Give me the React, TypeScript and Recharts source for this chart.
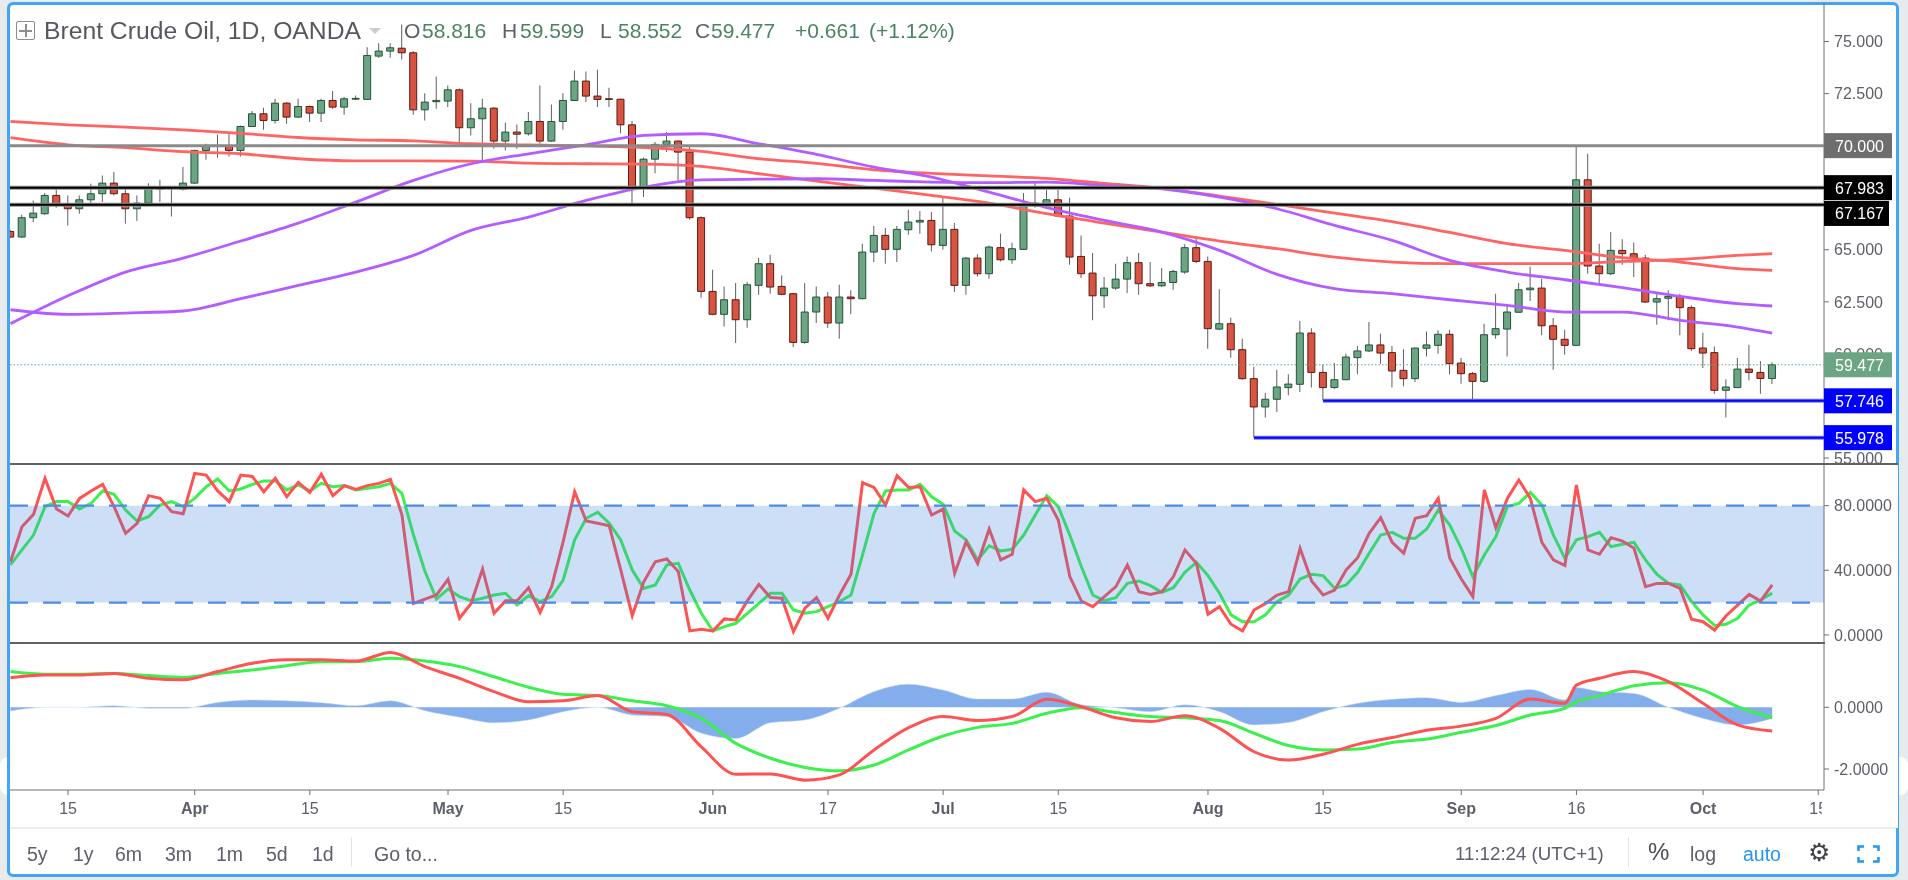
import React from "react";
import { Area, Bar, Cell, ComposedChart, Line, ReferenceArea, ReferenceLine, XAxis, YAxis } from "recharts";

// Daily candles, 8 Mar to 9 Oct, one entry per trading day
const opens = [
  65.88, 65.61, 66.54, 66.73, 67.61, 67.13, 66.97, 67.4, 67.69, 68.2,
  67.69, 66.97, 67.24, 67.96, 67.93, 67.91, 68.2, 69.77, 70.01, 69.98,
  69.77, 70.92, 71.53, 71.21, 72.04, 71.37, 71.88, 71.56, 72.17, 71.85,
  72.23, 72.22, 74.3, 74.54, 74.68, 74.46, 71.72, 72.11, 72.14, 72.68,
  70.86, 71.29, 71.8, 70.22, 70.65, 70.57, 71.16, 70.22, 71.16, 72.17,
  73.1, 72.38, 72.25, 72.23, 71.0, 68.01, 69.35, 70.06, 70.22, 69.69,
  66.54, 63.0, 61.9, 62.6, 61.64, 63.29, 64.33, 63.24, 62.89, 60.55,
  62.01, 62.73, 61.48, 62.73, 62.65, 64.89, 65.69, 65.02, 65.96, 66.33,
  66.41, 65.21, 65.98, 63.29, 64.6, 63.85, 65.1, 64.52, 65.02, 67.11,
  67.21, 67.4, 66.62, 64.68, 63.88, 62.79, 63.16, 63.59, 64.38, 63.37,
  63.27, 63.43, 63.93, 65.1, 64.44, 61.19, 61.45, 60.2, 58.81, 57.45,
  57.82, 58.38, 58.54, 61.0, 59.11, 58.38, 58.76, 59.82, 60.14, 60.43,
  60.06, 59.21, 58.81, 60.27, 60.41, 60.94, 59.56, 59.05, 58.68, 60.92,
  61.19, 62.0, 63.08, 63.16, 61.35, 60.7, 60.41, 68.36, 64.22, 63.85,
  64.97, 64.81, 64.6, 62.49, 62.67, 62.76, 62.22, 60.28, 60.06, 58.25,
  58.38, 59.27, 59.11, 58.816,
];
const closes = [
  65.61, 66.54, 66.76, 67.61, 67.13, 66.97, 67.4, 67.69, 68.2, 67.69,
  66.97, 67.24, 68.01, 67.91, 67.96, 68.2, 69.77, 70.01, 69.98, 69.77,
  70.92, 71.53, 71.21, 72.04, 71.37, 71.88, 71.56, 72.17, 71.85, 72.25,
  72.27, 74.33, 74.54, 74.7, 74.46, 71.72, 72.09, 72.17, 72.68, 70.86,
  71.29, 71.8, 70.22, 70.65, 70.55, 71.16, 70.22, 71.16, 72.17, 73.1,
  72.38, 72.22, 72.22, 71.0, 68.01, 69.35, 70.06, 70.22, 69.69, 66.54,
  63.0, 61.9, 62.6, 61.64, 63.32, 64.33, 63.21, 62.86, 60.55, 62.01,
  62.73, 61.48, 62.73, 62.65, 64.89, 65.69, 65.02, 65.98, 66.33, 66.41,
  65.24, 65.98, 63.29, 64.6, 63.85, 65.13, 64.52, 65.05, 67.13, 67.24,
  67.4, 66.62, 64.65, 63.85, 62.79, 63.16, 63.59, 64.38, 63.37, 63.27,
  63.43, 63.96, 65.1, 64.44, 61.21, 61.45, 60.2, 58.81, 57.45, 57.82,
  58.41, 58.55, 61.0, 59.11, 58.38, 58.76, 59.85, 60.14, 60.43, 60.04,
  59.18, 58.81, 60.28, 60.43, 60.94, 59.53, 59.05, 58.68, 60.92, 61.21,
  62.01, 63.08, 63.16, 61.35, 60.7, 60.41, 68.36, 64.22, 63.85, 64.97,
  64.81, 64.6, 62.49, 62.65, 62.76, 62.22, 60.25, 60.04, 58.25, 58.41,
  59.27, 59.11, 58.82, 59.477,
];
const highs = [
  65.96, 66.68, 67.37, 67.72, 68.01, 67.61, 67.61, 68.17, 68.57, 68.73,
  68.01, 67.61, 68.2, 68.36, 68.01, 68.97, 69.8, 70.09, 70.54, 70.6,
  70.97, 71.66, 71.82, 72.25, 72.09, 72.25, 71.93, 72.25, 72.62, 72.33,
  72.41, 74.73, 74.92, 74.92, 75.82, 74.54, 72.52, 73.32, 72.89, 72.75,
  72.04, 72.25, 71.85, 71.1, 71.02, 71.61, 72.89, 71.98, 72.52, 73.61,
  73.56, 73.64, 72.78, 72.25, 71.18, 69.42, 70.17, 70.65, 70.25, 69.96,
  66.6, 64.04, 63.24, 63.4, 63.45, 64.62, 64.76, 63.77, 62.92, 63.4,
  63.24, 62.97, 63.32, 63.05, 65.29, 66.14, 66.04, 66.14, 66.92, 66.86,
  66.81, 67.56, 66.28, 64.65, 64.78, 65.21, 65.77, 65.34, 67.72, 68.25,
  67.88, 67.88, 67.5, 65.69, 64.84, 63.69, 64.33, 64.68, 64.84, 64.41,
  64.12, 64.04, 65.26, 65.64, 64.68, 63.1, 61.74, 60.73, 59.37, 58.12,
  59.24, 59.02, 61.58, 61.23, 59.48, 59.56, 60.01, 60.38, 61.53, 60.97,
  60.38, 60.22, 60.3, 61.08, 61.13, 61.16, 59.8, 59.13, 61.45, 62.89,
  62.33, 63.4, 64.2, 63.61, 61.72, 61.16, 69.96, 69.61, 65.29, 65.85,
  65.5, 65.35, 64.76, 62.97, 63.05, 62.89, 62.33, 61.02, 60.36, 58.78,
  59.8, 60.44, 59.66, 59.599,
];
const lows = [
  65.58, 65.58, 66.33, 66.68, 67.02, 66.17, 66.73, 67.21, 67.29, 67.61,
  66.25, 66.38, 67.18, 67.29, 66.6, 67.85, 68.17, 69.32, 69.42, 69.48,
  69.48, 70.89, 70.76, 71.05, 71.05, 71.34, 71.13, 71.13, 71.77, 71.48,
  72.2, 72.2, 74.22, 74.22, 74.14, 71.48, 71.21, 71.77, 71.85, 70.17,
  70.49, 69.26, 69.85, 69.77, 69.85, 70.49, 70.09, 70.17, 70.76, 72.14,
  72.09, 71.85, 71.85, 70.6, 67.18, 67.53, 68.68, 69.69, 68.25, 66.44,
  62.7, 61.85, 61.32, 60.52, 61.26, 62.84, 62.89, 62.81, 60.33, 60.49,
  61.48, 61.26, 60.73, 61.9, 62.62, 64.41, 64.33, 64.41, 65.72, 65.77,
  64.92, 65.0, 62.97, 62.84, 63.72, 63.61, 64.44, 64.33, 65.0, 67.02,
  67.13, 66.57, 64.28, 63.64, 61.61, 62.2, 63.08, 62.92, 62.84, 63.21,
  63.21, 63.08, 63.85, 64.36, 60.25, 61.13, 59.82, 58.76, 55.98, 56.94,
  57.21, 58.01, 58.17, 58.38, 57.77, 58.33, 58.73, 59.02, 60.09, 59.53,
  58.38, 58.44, 58.65, 59.88, 60.01, 59.02, 58.57, 57.69, 58.6, 60.73,
  59.88, 61.96, 62.54, 60.89, 59.24, 59.96, 60.39, 63.85, 63.37, 63.79,
  64.28, 63.69, 62.44, 61.4, 61.61, 60.89, 60.14, 59.32, 58.09, 56.94,
  58.36, 58.73, 58.09, 58.552,
];

// Moving averages
const maBars = [
  0, 5, 10, 15, 20, 25, 30, 35, 40, 45, 50, 55, 60, 65, 70, 75, 80, 85, 90, 95,
  100, 105, 110, 115, 120, 125, 130, 135, 140, 145, 150, 153,
];
const redMaUpper = [
  71.16, 71.0, 70.89, 70.76, 70.59, 70.39, 70.28, 70.23, 70.09, 70.03, 69.99, 69.91,
  69.72, 69.37, 69.15, 68.84, 68.67, 68.55, 68.43, 68.19, 67.95, 67.58, 67.18, 66.76,
  66.35, 65.83, 65.29, 64.97, 64.62, 64.41, 64.09, 64.01,
];
const redMaLower = [
  70.38, 70.04, 69.9, 69.71, 69.61, 69.37, 69.27, 69.27, 69.26, 69.16, 69.13, 69.11,
  69.0, 68.65, 68.3, 67.96, 67.61, 67.24, 66.73, 66.28, 65.85, 65.42, 65.05, 64.65,
  64.41, 64.33, 64.33, 64.33, 64.44, 64.54, 64.73, 64.81,
];
const purpleMaFast = [
  61.45, 62.79, 63.93, 64.6, 65.42, 66.28, 67.29, 68.33, 69.13, 69.61, 70.04, 70.49,
  70.57, 70.09, 69.58, 68.97, 68.49, 67.77, 67.02, 66.41, 65.85, 64.97, 63.82, 63.13,
  62.89, 62.6, 62.33, 62.01, 62.01, 61.61, 61.29, 61.0,
];
const purpleMaSlow = [
  62.12, 61.9, 61.96, 62.06, 62.65, 63.29, 63.93, 64.73, 65.93, 66.57, 67.37, 68.01,
  68.36, 68.39, 68.41, 68.33, 68.25, 68.22, 68.25, 68.09, 67.93, 67.53, 66.97, 66.17,
  65.45, 64.49, 63.93, 63.56, 63.18, 62.76, 62.41, 62.3,
];

// Stochastic RSI, one value per bar
const stochK = [
  45.3, 67.0, 74.6, 96.9, 77.9, 73.6, 84.5, 89.1, 93.2, 79.4,
  62.9, 69.1, 86.2, 84.5, 76.3, 75.0, 100, 98.9, 89.1, 82.5,
  98.9, 98.1, 88.6, 96.9, 85.5, 94.4, 88.2, 99.4, 86.2, 92.4,
  90.1, 92.4, 93.8, 96.3, 74.2, 19.5, 22.2, 24.7, 34.4, 10.3,
  19.5, 40.8, 13.4, 21.2, 21.2, 29.2, 14.0, 29.9, 57.7, 88.6,
  70.5, 69.1, 67.6, 40.2, 11.9, 32.9, 45.3, 47.0, 39.2, 2.5,
  3.5, 2.5, 9.9, 9.3, 21.2, 31.3, 23.1, 22.7, 2.0, 16.5,
  23.1, 10.3, 24.7, 37.5, 94.2, 91.3, 80.4, 98.5, 91.3, 91.7,
  74.2, 77.9, 38.1, 57.7, 44.3, 65.6, 46.4, 49.9, 89.7, 82.5,
  84.5, 71.1, 36.1, 21.0, 17.5, 23.7, 29.9, 43.3, 26.8, 25.1,
  26.8, 36.1, 52.6, 44.3, 12.8, 17.5, 6.6, 2.4, 15.4, 19.5,
  24.7, 26.8, 53.6, 33.4, 24.7, 27.8, 40.2, 47.8, 62.9, 72.6,
  57.3, 50.5, 72.2, 73.8, 84.5, 47.4, 34.6, 23.7, 89.7, 66.4,
  84.5, 95.9, 84.5, 57.3, 46.4, 42.9, 92.8, 52.6, 49.9, 60.2,
  58.1, 53.6, 29.9, 31.9, 31.9, 28.8, 9.7, 8.2, 3.0, 11.9,
  18.5, 25.1, 21.0, 30.9,
];
const stochD = [
  43.3, 52.6, 61.8, 79.4, 82.5, 82.5, 77.9, 81.4, 89.1, 87.0,
  77.3, 70.5, 73.2, 80.4, 82.5, 79.4, 84.5, 91.7, 96.5, 89.1,
  90.3, 93.2, 95.3, 95.3, 89.7, 92.8, 89.1, 93.8, 91.7, 92.4,
  89.7, 90.7, 91.7, 93.8, 87.6, 61.8, 39.2, 22.2, 28.4, 23.7,
  21.2, 22.7, 24.7, 25.8, 18.5, 24.3, 20.6, 23.7, 34.0, 58.8,
  72.2, 75.9, 69.1, 58.8, 40.2, 28.8, 30.9, 43.3, 44.3, 27.8,
  13.4, 2.5, 5.1, 7.2, 13.4, 19.5, 25.8, 25.8, 15.4, 13.4,
  14.4, 17.5, 20.6, 24.7, 49.5, 75.2, 89.1, 89.7, 89.7, 93.2,
  85.5, 80.8, 64.3, 58.8, 46.4, 55.2, 52.0, 53.0, 61.8, 74.2,
  86.2, 79.4, 61.8, 42.3, 24.7, 21.2, 23.1, 31.9, 33.4, 30.5,
  26.4, 29.2, 38.8, 44.9, 36.7, 25.8, 12.4, 8.2, 8.2, 12.4,
  20.6, 24.7, 34.6, 37.5, 36.7, 28.8, 30.9, 38.8, 50.5, 61.8,
  63.5, 59.8, 59.8, 65.6, 77.3, 68.0, 53.6, 36.1, 49.5, 60.8,
  79.4, 81.4, 88.2, 80.4, 61.8, 47.4, 58.8, 60.8, 63.5, 54.6,
  56.1, 57.3, 46.4, 37.5, 31.9, 30.9, 20.6, 12.4, 5.8, 6.6,
  10.3, 18.5, 21.6, 25.8,
];

const macdBars = [
  0, 3, 6, 9, 12, 15, 18, 21, 24, 27, 30, 33, 36, 39, 42, 45, 48, 51, 54,
  57, 60, 63, 66, 69, 72, 75, 78, 81, 84, 87, 90, 93, 96, 99, 102, 105, 108,
  111, 114, 117, 120, 123, 126, 129, 132, 135, 136, 138, 141, 144, 147, 150, 153,
];
const macdLine = [
  0.96, 1.05, 1.05, 1.1, 0.94, 0.89, 1.16, 1.43, 1.54, 1.54, 1.5, 1.78, 1.32, 0.94, 0.51, 0.18, 0.21, 0.38, -0.14,
  -0.23, -1.28, -2.17, -2.16, -2.36, -2.19, -1.38, -0.66, -0.3, -0.43, -0.3, 0.26, 0.02, -0.34, -0.46, -0.27, -0.68, -1.44,
  -1.71, -1.52, -1.2, -0.98, -0.74, -0.61, -0.36, 0.27, 0.13, 0.72, 0.94, 1.16, 0.83, 0.13, -0.57, -0.77,
];
const macdSignal = [
  1.16, 1.07, 1.07, 1.1, 1.03, 0.97, 1.1, 1.21, 1.35, 1.48, 1.48, 1.59, 1.5, 1.32, 0.99, 0.65, 0.42, 0.38, 0.21,
  0.05, -0.36, -1.17, -1.65, -1.95, -2.06, -1.87, -1.38, -0.93, -0.65, -0.52, -0.19, -0.01, -0.17, -0.3, -0.34, -0.43, -0.84,
  -1.24, -1.38, -1.35, -1.14, -1.03, -0.81, -0.59, -0.25, -0.03, 0.18, 0.38, 0.7, 0.8, 0.56, 0.02, -0.34,
];
const macdHist = [
  -0.12, 0, 0, 0.05, -0.03, -0.03, 0.16, 0.24, 0.21, 0.15, 0.05, 0.21, -0.11, -0.32, -0.5, -0.41, -0.14, 0, -0.25,
  -0.3, -0.84, -1.01, -0.5, -0.41, -0.03, 0.51, 0.75, 0.56, 0.27, 0.27, 0.49, 0.08, -0.01, -0.14, 0.08, -0.14, -0.57,
  -0.49, -0.14, 0.13, 0.26, 0.31, 0.16, 0.38, 0.58, 0.24, 0.64, 0.51, 0.45, 0, -0.36, -0.57, -0.36,
];

const timeTicks = [5, 16, 26, 38, 48, 61, 71, 81, 91, 104, 114, 126, 136, 147, 157];
const timeLabels = ["15", "Apr", "15", "May", "15", "Jun", "17", "Jul", "15", "Aug", "15", "Sep", "16", "Oct", "15"];
const priceTicks = [75, 72.5, 70, 65, 62.5, 60, 55];
const stochTicks = [80, 40, 0];
const macdTicks = [0, -2];
const rangeButtons = ["5y", "1y", "6m", "3m", "1m", "5d", "1d"];
const rangeLefts = [27, 73, 115, 165, 216, 266, 312];

const rows: Record<string, any>[] = opens.map((open, i) => ({
  i,
  wick: [lows[i], highs[i]],
  body: [Math.min(open, closes[i]), Math.max(open, closes[i])],
  up: closes[i] >= open,
  stochK: stochK[i],
  stochD: stochD[i],
}));
maBars.forEach((bar, k) => {
  rows[bar].redMaUpper = redMaUpper[k];
  rows[bar].redMaLower = redMaLower[k];
  rows[bar].purpleMaFast = purpleMaFast[k];
  rows[bar].purpleMaSlow = purpleMaSlow[k];
});
macdBars.forEach((bar, k) => {
  rows[bar].macdLine = macdLine[k];
  rows[bar].macdSignal = macdSignal[k];
  rows[bar].macdHist = macdHist[k];
});

const SANS = "'Liberation Sans', Arial, sans-serif";
const TEXT = "#5d6068";
const AXIS = "#6f7176";
const X_DOMAIN: [number, number] = [-0.04, 157.5];
const PRICE_DOMAIN: [number, number] = [54.76, 76.85];
const STOCH_DOMAIN: [number, number] = [-5, 106.4];
const CHART_WIDTH = 1888;
const AXIS_WIDTH = 74;
const MARGIN = { top: 0, right: 0, bottom: 0, left: 0 };
const OVERLAY_MARGIN = { top: 0, right: AXIS_WIDTH, bottom: 0, left: 0 };
const tickStyle = { fontFamily: SANS, fontSize: 16, fill: TEXT };

const PriceTag = ({ viewBox, text, fill, shift = 0, width = 68 }: any) => {
  const x = viewBox.x + viewBox.width;
  const y = viewBox.y + shift;
  return (
    <g>
      <rect x={x} y={y - 12.5} width={width} height={25} fill={fill} />
      <text x={x + 11} y={y + 6} fontFamily={SANS} fontSize={16} fill="#fff">{text}</text>
    </g>
  );
};

const TimeTick = ({ x, y, payload }: any) => {
  const label = timeLabels[timeTicks.indexOf(payload.value)];
  const month = Number.isNaN(Number(label));
  return (
    <text x={x} y={y + 17} textAnchor="middle" fontFamily={SANS} fontSize={16} fontWeight={month ? 700 : 400} fill={TEXT}>
      {label}
    </text>
  );
};

const Label = ({ left, top = 842, size = 19.5, color = TEXT, children }: any) => (
  <span style={{ position: "absolute", left, top, fontFamily: SANS, fontSize: size, color, whiteSpace: "nowrap", lineHeight: "24px" }}>
    {children}
  </span>
);

const Head = ({ left, size = 21, color = TEXT, children }: any) => (
  <span style={{ position: "absolute", left, top: 18, fontFamily: SANS, fontSize: size, color, whiteSpace: "nowrap", lineHeight: "26px" }}>
    {children}
  </span>
);

const PriceChart = () => (
  <ComposedChart width={CHART_WIDTH} height={460} data={rows} margin={MARGIN}>
    <XAxis xAxisId="body" dataKey="i" type="number" domain={X_DOMAIN} allowDataOverflow hide />
    <XAxis xAxisId="wick" dataKey="i" type="number" domain={X_DOMAIN} allowDataOverflow hide />
    <YAxis
      orientation="right"
      width={AXIS_WIDTH}
      domain={PRICE_DOMAIN}
      allowDataOverflow
      ticks={priceTicks}
      interval={0}
      tickFormatter={(v: number) => v.toFixed(3)}
      tick={tickStyle}
      tickSize={5}
      tickMargin={5}
      stroke={AXIS}
    />
    <Line xAxisId="body" dataKey="redMaUpper" type="monotone" stroke="#ff6464" strokeWidth={2.8} dot={false} connectNulls isAnimationActive={false} />
    <Line xAxisId="body" dataKey="redMaLower" type="monotone" stroke="#ff6464" strokeWidth={2.8} dot={false} connectNulls isAnimationActive={false} />
    <Line xAxisId="body" dataKey="purpleMaFast" type="monotone" stroke="#b45cff" strokeWidth={2.8} dot={false} connectNulls isAnimationActive={false} />
    <Line xAxisId="body" dataKey="purpleMaSlow" type="monotone" stroke="#b45cff" strokeWidth={2.8} dot={false} connectNulls isAnimationActive={false} />
    <Bar xAxisId="wick" dataKey="wick" barSize={1} fill="#5f5f63" isAnimationActive={false} />
    <Bar xAxisId="body" dataKey="body" barSize={7} strokeWidth={1} isAnimationActive={false}>
      {rows.map((row) => (
        <Cell key={row.i} fill={row.up ? "#6ba583" : "#d75442"} stroke={row.up ? "#225437" : "#5b1a13"} />
      ))}
    </Bar>
  </ComposedChart>
);

// Second chart on the same scales, so the drawings and price tags sit over the axis labels
const PriceLevels = () => (
  <ComposedChart width={CHART_WIDTH} height={460} data={rows} margin={OVERLAY_MARGIN}>
    <XAxis dataKey="i" type="number" domain={X_DOMAIN} allowDataOverflow hide />
    <YAxis domain={PRICE_DOMAIN} allowDataOverflow hide />
    <ReferenceLine y={59.477} stroke="#6ba583" strokeDasharray="1.5 2" label={(p: any) => <PriceTag {...p} text="59.477" fill="#6ba583" />} />
    <ReferenceLine y={70} stroke="#8a8a8a" strokeWidth={3} label={(p: any) => <PriceTag {...p} text="70.000" fill="#6e6e6e" />} />
    <ReferenceLine y={67.983} stroke="#8f8f8f" strokeWidth={4} />
    <ReferenceLine y={67.983} stroke="#000" strokeWidth={2} label={(p: any) => <PriceTag {...p} text="67.983" fill="#000" />} />
    <ReferenceLine y={67.167} stroke="#8f8f8f" strokeWidth={4} />
    <ReferenceLine y={67.167} stroke="#000" strokeWidth={2} label={(p: any) => <PriceTag {...p} text="67.167" fill="#000" shift={8.8} width={65} />} />
    <ReferenceLine segment={[{ x: 114, y: 57.746 }, { x: 157.5, y: 57.746 }]} stroke="#6f78f5" strokeWidth={4} />
    <ReferenceLine segment={[{ x: 114, y: 57.746 }, { x: 157.5, y: 57.746 }]} stroke="#0808f0" strokeWidth={2} />
    <ReferenceLine y={57.746} stroke="none" label={(p: any) => <PriceTag {...p} text="57.746" fill="#0000ff" />} />
    <ReferenceLine segment={[{ x: 108, y: 55.978 }, { x: 157.5, y: 55.978 }]} stroke="#6f78f5" strokeWidth={4} />
    <ReferenceLine segment={[{ x: 108, y: 55.978 }, { x: 157.5, y: 55.978 }]} stroke="#0808f0" strokeWidth={2} />
    <ReferenceLine y={55.978} stroke="none" label={(p: any) => <PriceTag {...p} text="55.978" fill="#0000ff" />} />
  </ComposedChart>
);

const StochChart = () => (
  <ComposedChart width={CHART_WIDTH} height={180} data={rows} margin={MARGIN}>
    <XAxis dataKey="i" type="number" domain={X_DOMAIN} allowDataOverflow hide />
    <YAxis
      orientation="right"
      width={AXIS_WIDTH}
      domain={STOCH_DOMAIN}
      allowDataOverflow
      ticks={stochTicks}
      interval={0}
      tickFormatter={(v: number) => v.toFixed(4)}
      tick={tickStyle}
      tickSize={5}
      tickMargin={5}
      stroke={AXIS}
    />
    <Line dataKey="stochD" stroke="#3cf04e" strokeWidth={3} dot={false} isAnimationActive={false} />
    <Line dataKey="stochK" stroke="#ff5252" strokeWidth={3} dot={false} isAnimationActive={false} />
  </ComposedChart>
);

// The band lies over the oscillator lines and dulls them, as in the original
const StochBand = () => (
  <ComposedChart width={CHART_WIDTH} height={180} data={rows} margin={OVERLAY_MARGIN}>
    <XAxis dataKey="i" type="number" domain={X_DOMAIN} allowDataOverflow hide />
    <YAxis domain={STOCH_DOMAIN} allowDataOverflow hide />
    <ReferenceArea y1={20} y2={80} fill="rgb(55,127,223)" fillOpacity={0.25} stroke="none" />
    <ReferenceLine y={80} stroke="#4f8be6" strokeWidth={2.4} strokeDasharray="18 15" />
    <ReferenceLine y={20} stroke="#4f8be6" strokeWidth={2.4} strokeDasharray="18 15" />
  </ComposedChart>
);

const MacdChart = () => (
  <ComposedChart width={CHART_WIDTH} height={185} data={rows} margin={MARGIN}>
    <XAxis
      dataKey="i"
      type="number"
      domain={X_DOMAIN}
      allowDataOverflow
      ticks={timeTicks}
      interval={0}
      height={38}
      tick={<TimeTick />}
      tickSize={5}
      stroke={AXIS}
    />
    <YAxis
      orientation="right"
      width={AXIS_WIDTH}
      domain={[-2.68, 2.085]}
      allowDataOverflow
      ticks={macdTicks}
      interval={0}
      tickFormatter={(v: number) => v.toFixed(4)}
      tick={tickStyle}
      tickSize={5}
      tickMargin={5}
      stroke={AXIS}
    />
    <Area dataKey="macdHist" type="monotone" baseValue={0} fill="#6f9fe8" fillOpacity={0.85} stroke="#c9dbf6" strokeWidth={0.5} dot={false} connectNulls isAnimationActive={false} />
    <Line dataKey="macdSignal" type="monotone" stroke="#3cf04e" strokeWidth={3} dot={false} connectNulls isAnimationActive={false} />
    <Line dataKey="macdLine" type="monotone" stroke="#ff5252" strokeWidth={3} dot={false} connectNulls isAnimationActive={false} />
  </ComposedChart>
);

export default function App() {
  return (
    <div style={{ position: "absolute", left: 0, top: 0, width: 1908, height: 880, overflow: "hidden", background: "#e7ebee", filter: "blur(0.5px)" }}>
      <div style={{ position: "absolute", left: 0, top: 757, width: 16, height: 38, background: "#fff", borderRadius: 8 }} />
      <div style={{ position: "absolute", left: 1892, top: 757, width: 16, height: 38, background: "#fff", borderRadius: 8 }} />
      <div style={{ position: "absolute", left: 7, top: 2, width: 1886, height: 869, background: "#fff", border: "3px solid #42a5f5", borderRadius: 6 }} />

      <div style={{ position: "absolute", left: 10, top: 3 }}><PriceChart /></div>
      <div style={{ position: "absolute", left: 10, top: 3 }}><PriceLevels /></div>
      <div style={{ position: "absolute", left: 10, top: 463, width: CHART_WIDTH, height: 180, background: "#fff", overflow: "hidden" }}>
        <div style={{ position: "absolute", left: 0, top: 0 }}><StochChart /></div>
        <div style={{ position: "absolute", left: 0, top: 0 }}><StochBand /></div>
        <div style={{ position: "absolute", left: 0, top: 0, width: 1888, height: 2, background: "#5f6165" }} />
      </div>
      <div style={{ position: "absolute", left: 10, top: 643, background: "#fff" }}>
        <div style={{ position: "absolute", left: 0, top: -1, width: 1815, height: 2, background: "#5f6165", zIndex: 1 }} />
        <MacdChart />
      </div>
      <div style={{ position: "absolute", left: 1822, top: 792, width: 74, height: 35, background: "#fff" }} />

      <div style={{ position: "absolute", left: 16, top: 21, width: 17, height: 17, border: "1.5px solid #8a8d92", borderRadius: 2 }}>
        <div style={{ position: "absolute", left: 8, top: 2, width: 1.5, height: 13, background: "#8a8d92" }} />
        <div style={{ position: "absolute", left: 2, top: 8, width: 13, height: 1.5, background: "#8a8d92" }} />
      </div>
      <Head left={44} size={24.7} color="#55585e">Brent Crude Oil, 1D, OANDA</Head>
      <svg style={{ position: "absolute", left: 369, top: 28 }} width={12} height={7}><path d="M0 0 L12 0 L6 6 Z" fill="#c9ccd0" /></svg>
      <Head left={404}>O</Head>
      <Head left={422} color="#4d8265">58.816</Head>
      <Head left={502}>H</Head>
      <Head left={520} color="#4d8265">59.599</Head>
      <Head left={600}>L</Head>
      <Head left={618} color="#4d8265">58.552</Head>
      <Head left={695}>C</Head>
      <Head left={711} color="#4d8265">59.477</Head>
      <Head left={795} color="#4d8265">+0.661</Head>
      <Head left={869} color="#4d8265">(+1.12%)</Head>

      <div style={{ position: "absolute", left: 10, top: 827, width: 1886, height: 2, background: "#eceef0" }} />
      {rangeButtons.map((label, k) => (
        <Label key={label} left={rangeLefts[k]}>{label}</Label>
      ))}
      <div style={{ position: "absolute", left: 351, top: 837, width: 1, height: 30, background: "#e2e4e7" }} />
      <Label left={374}>Go to...</Label>
      <Label left={1455} size={18.7}>11:12:24 (UTC+1)</Label>
      <div style={{ position: "absolute", left: 1628, top: 837, width: 1, height: 30, background: "#e2e4e7" }} />
      <Label left={1648} size={24} top={840} color="#4a4d52">%</Label>
      <Label left={1690}>log</Label>
      <Label left={1743} color="#2196f3">auto</Label>
      <Label left={1808} size={25} top={840} color="#3f4247">
        <span style={{ fontFamily: "'DejaVu Sans'" }}>⚙</span>
      </Label>
      <svg style={{ position: "absolute", left: 1857, top: 845 }} width={23} height={18} fill="none" stroke="#2196f3" strokeWidth={2.5}>
        <path d="M1.5 6 V1.5 H7 M16 1.5 H21.5 V6 M1.5 12 V16.5 H7 M16 16.5 H21.5 V12" />
      </svg>
    </div>
  );
}
